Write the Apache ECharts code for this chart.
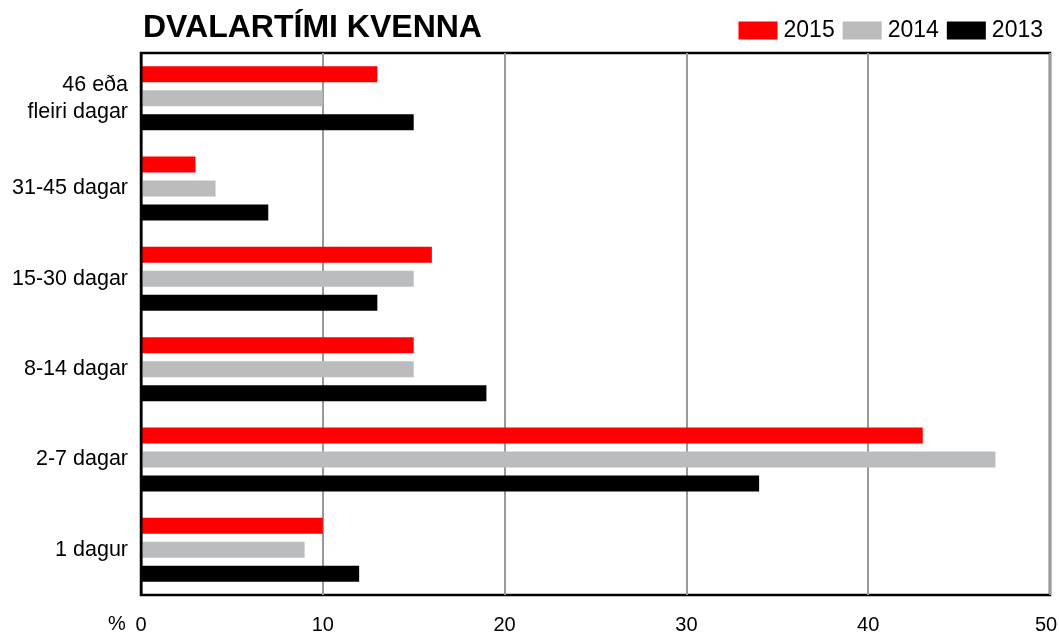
<!DOCTYPE html>
<html>
<head>
<meta charset="utf-8">
<script src="https://cdn.jsdelivr.net/npm/echarts@6/dist/echarts.min.js"></script>
<style>
  body { margin: 0; background: #fff; }
  #chart { width: 1059px; height: 634px; }
</style>
</head>
<body>
<div id="chart"></div>
<script>
  // flokkar, neðan frá og upp
  var categories = ['1 dagur', '2-7 dagar', '8-14 dagar', '15-30 dagar', '31-45 dagar', '46 eða\nfleiri dagar']
  var data2015 = [10, 43, 15, 16, 3, 13]
  var data2014 = [9, 47, 15, 15, 4.1, 10]
  var data2013 = [12, 34, 19, 13, 7, 15]
  var years = ['2015', '2014', '2013']
  var xTicks = [0, 10, 20, 30, 40, 50]

  var font = 'Liberation Sans, Arial, Helvetica, sans-serif'
  var myChart = echarts.init(document.getElementById('chart'))

  function bar(name, data, color) {
    return {
      name: name,
      type: 'bar',
      data: data,
      barWidth: 16,
      barGap: '50%',
      itemStyle: { color: color },
      silent: true
    }
  }

  myChart.setOption({
    animation: false,
    title: {
      text: 'DVALARTÍMI KVENNA',
      left: 138,
      top: 7,
      textStyle: { fontFamily: font, fontWeight: 'bold', fontSize: 32, color: '#000' }
    },
    legend: {
      data: years,
      right: 11,
      top: 14,
      itemWidth: 39,
      itemHeight: 18,
      itemGap: 8,
      icon: 'rect',
      textStyle: { fontFamily: font, fontSize: 23, color: '#000', padding: [0, 0, 0, 1] }
    },
    grid: {
      left: 141,
      right: 9,
      top: 53,
      bottom: 39,
      show: true,
      borderColor: '#000',
      borderWidth: 2.5,
      containLabel: false,
      outerBoundsMode: 'none'
    },
    xAxis: {
      type: 'value',
      min: xTicks[0],
      max: xTicks[xTicks.length - 1],
      interval: 10,
      axisLine: { show: false },
      axisTick: { show: false },
      splitLine: { lineStyle: { color: '#999', width: 2 } },
      axisLabel: {
        fontFamily: font, fontSize: 20, color: '#000', margin: 20,
        formatter: function (v) {
          if (v === 50) return '{e|50}'
          return xTicks.indexOf(v) >= 0 ? String(v) : ''
        },
        rich: { e: { fontFamily: font, fontSize: 20, color: '#000', padding: [0, 8, 0, 0] } }
      }
    },
    yAxis: {
      type: 'category',
      data: categories,
      axisLine: { show: false },
      axisTick: { show: false },
      splitLine: { show: false },
      axisLabel: { fontFamily: font, fontSize: 21.5, color: '#000', margin: 13, lineHeight: 27 }
    },
    graphic: [{
      type: 'text',
      left: 108,
      top: 614,
      style: { text: '%', font: '20px ' + font, fill: '#000' }
    }, {
      // vinstri rammi ofan á súlum
      type: 'rect',
      left: 140,
      top: 52,
      shape: { width: 2.5, height: 543 },
      style: { fill: '#000' },
      z: 100
    }],
    series: [
      bar('2015', data2015, '#ff0000'),
      bar('2014', data2014, '#bbbcbe'),
      bar('2013', data2013, '#000000')
    ]
  })
</script>
</body>
</html>
